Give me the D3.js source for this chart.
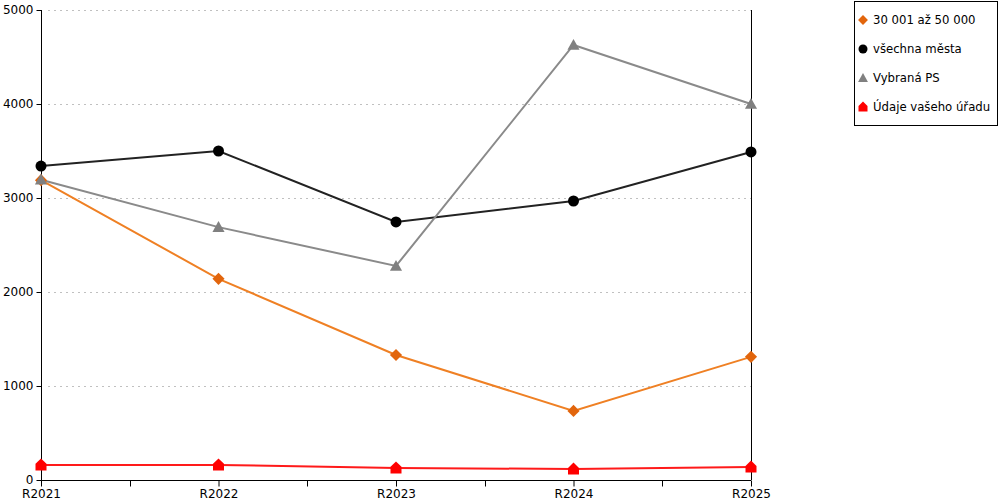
<!DOCTYPE html>
<html>
<head>
<meta charset="utf-8">
<script src="https://cdn.jsdelivr.net/npm/d3@7"></script>
<style>
  body { margin: 0; background: #fff; }
  text { font-family: "DejaVu Sans", sans-serif; font-size: 12px; fill: #000; }
</style>
</head>
<body>
<div id="chart-area"></div>
<script>
let years = ["R2021", "R2022", "R2023", "R2024", "R2025"];
let yTicks = [0, 1000, 2000, 3000, 4000, 5000];

let skupina = [3190, 2140, 1330, 735, 1310];    // 30 001 až 50 000
let vsechna = [3340, 3500, 2745, 2968, 3490];   // všechna města
let vybrana = [3195, 2690, 2277, 4628, 4000];   // Vybraná PS
let urad = [160, 160, 128, 117, 138];           // Údaje vašeho úřadu

let seriesNames = ["30 001 až 50 000", "všechna města", "Vybraná PS", "Údaje vašeho úřadu"];
let seriesData = [skupina, vsechna, vybrana, urad];
let lineColors = ["#ef8024", "#222222", "#8a8a8a", "#ff1a1a"];
let markColors = ["#e2650c", "#000000", "#808080", "#ff0000"];

let width = 1000, height = 500;
let mLeft = 41, mRight = 751, mTop = 10, mBottom = 480;

let svg = d3.select("#chart-area").append("svg")
    .attr("width", width)
    .attr("height", height);

let x = d3.scalePoint().domain(years).range([mLeft, mRight]);
let y = d3.scaleLinear().domain([0, 5000]).range([mBottom, mTop]);

// grid
svg.selectAll(".grid")
    .data(yTicks.filter(d => d > 0))
    .enter().append("line")
    .attr("x1", mLeft + 7).attr("x2", mRight)
    .attr("y1", d => Math.round(y(d)) + 0.5).attr("y2", d => Math.round(y(d)) + 0.5)
    .attr("stroke", "#c0c0c0")
    .attr("stroke-dasharray", "2,4");

// y axis
let yAxis = d3.axisLeft(y).tickValues(yTicks).tickSize(5).tickPadding(3).tickFormat(d3.format("d"));
let gy = svg.append("g").attr("transform", "translate(" + (mLeft + 0.5) + ",0)").call(yAxis);
gy.select(".domain").attr("d", "M0," + mTop + "V" + mBottom);
gy.selectAll("text").style("font-size", "12px");

// right border line
svg.append("line")
    .attr("x1", mRight + 0.5).attr("x2", mRight + 0.5)
    .attr("y1", mTop).attr("y2", mBottom)
    .attr("stroke", "#000");

// x axis
let xAxis = d3.axisBottom(x).tickSize(6).tickPadding(3);
let gx = svg.append("g").attr("transform", "translate(0," + (mBottom + 0.5) + ")").call(xAxis);
gx.select(".domain").attr("d", "M" + mLeft + ",0H" + mRight);
gx.selectAll("text").style("font-size", "12px");
// minor ticks in between categories
let step = x.step();
gx.selectAll(".minor")
    .data(years.slice(1))
    .enter().append("line")
    .attr("x1", d => Math.round(x(d) - step / 2) + 0.5)
    .attr("x2", d => Math.round(x(d) - step / 2) + 0.5)
    .attr("y1", 0).attr("y2", 6)
    .attr("stroke", "#000");

let line = d3.line().x((d, i) => x(years[i])).y(d => y(d));

// draw lines
seriesData.forEach((vals, s) => {
    svg.append("path")
        .datum(vals)
        .attr("d", line)
        .attr("fill", "none")
        .attr("stroke", lineColors[s])
        .attr("stroke-width", 2);
});

// marker shapes
function marker(g, s, size) {
    if (s === 0) {
        let r = size * 0.55;
        g.append("path").attr("d", `M0,${-r}L${r},0L0,${r}L${-r},0Z`).attr("fill", markColors[s]);
    } else if (s === 1) {
        g.append("circle").attr("r", size * 0.5).attr("fill", markColors[s]);
    } else if (s === 2) {
        let r = size * 0.55;
        g.append("path").attr("d", `M0,${-r}L${r},${r * 0.8}L${-r},${r * 0.8}Z`).attr("fill", markColors[s]);
    } else {
        let r = size * 0.5;
        g.append("path").attr("d", `M0,${-r - 1}L${r},${-r * 0.2}L${r},${r}L${-r},${r}L${-r},${-r * 0.2}Z`).attr("fill", markColors[s]);
    }
}

seriesData.forEach((vals, s) => {
    vals.forEach((v, i) => {
        let g = svg.append("g").attr("transform", "translate(" + x(years[i]) + "," + y(v) + ")");
        marker(g, s, 11);
    });
});

// legend
let lg = svg.append("g");
lg.append("rect")
    .attr("x", 854.5).attr("y", 1.5)
    .attr("width", 143).attr("height", 124)
    .attr("fill", "#fff").attr("stroke", "#000");
seriesNames.forEach((n, s) => {
    let yy = 20 + s * 29;
    let g = lg.append("g").attr("transform", "translate(863," + yy + ")");
    marker(g, s, 9);
    lg.append("text").attr("x", 873).attr("y", yy + 4).style("font-size", "11.7px").text(n);
});
</script>
</body>
</html>
